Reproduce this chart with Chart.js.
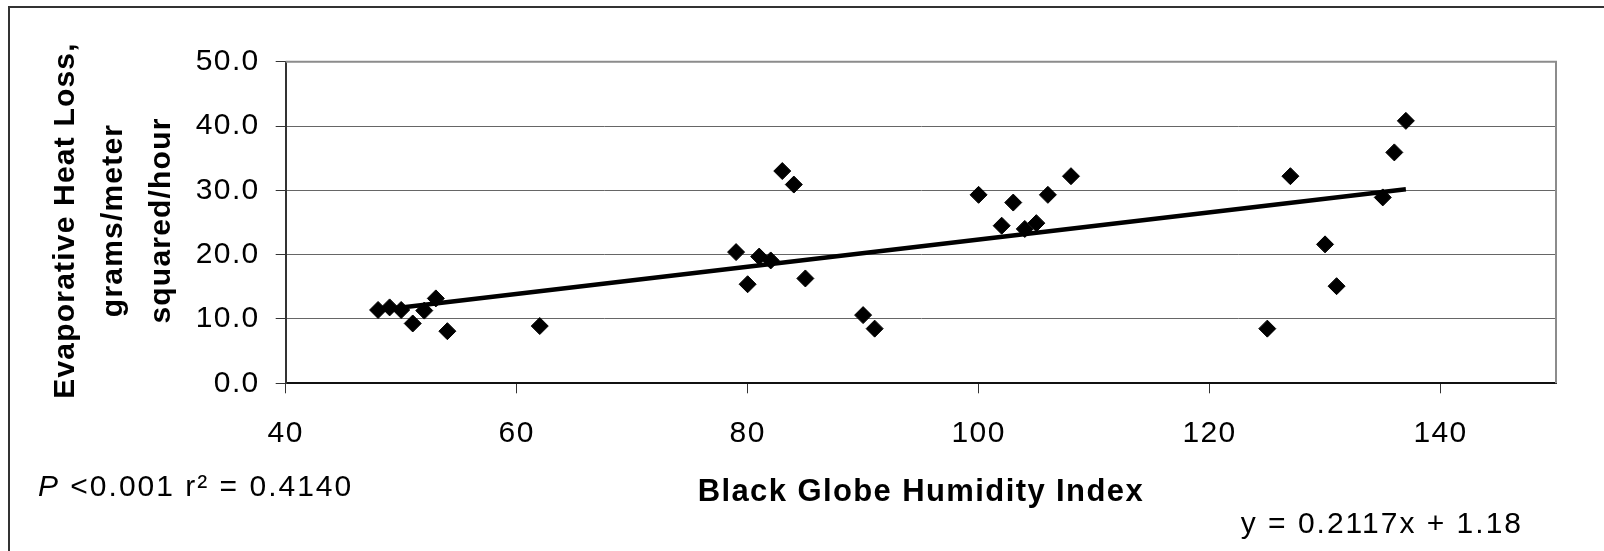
<!DOCTYPE html>
<html>
<head>
<meta charset="utf-8">
<title>Evaporative Heat Loss vs Black Globe Humidity Index</title>
<script src="https://cdn.jsdelivr.net/npm/chart.js@4/dist/chart.umd.min.js"></script>
<style>
  html, body { margin: 0; padding: 0; background: #fff; }
  canvas { display: block; }
</style>
</head>
<body>
<canvas id="bghiChart" width="1604" height="551"></canvas>
<script>
// Black Globe Humidity Index (x) and evaporative heat loss, g/m2/h (y)
const bghi = [48, 49, 50, 51, 52, 53, 54, 62, 79, 80, 81, 82, 83, 84, 85, 90, 91,
              100, 102, 103, 104, 105, 106, 108, 125, 127, 130, 131, 135, 136, 137];
const heatLoss = [11.4, 11.8, 11.4, 9.3, 11.3, 13.2, 8.1, 8.9, 20.4, 15.4, 19.7, 19.1, 33.0, 30.9, 16.3, 10.6, 8.5,
                  29.3, 24.5, 28.1, 24.0, 24.9, 29.3, 32.2, 8.5, 32.2, 21.6, 15.1, 28.9, 35.9, 40.8];

// fitted line from the source
const slope = 0.2117;
const intercept = 1.18;
const pValue = "<0.001";
const rSquared = "0.4140";

const xTicks = [40, 60, 80, 100, 120, 140];
const yTicks = [0, 10, 20, 30, 40, 50];
const xRange = [40, 150];
const yRange = [0, 50];

const yTitle = ["Evaporative Heat Loss,", "grams/meter", "squared/hour"];
const xTitle = "Black Globe Humidity Index";

const FONT = '"Liberation Sans", Arial, sans-serif';

const points = bghi.map((x, i) => ({ x: x, y: heatLoss[i] }));
const xMin = Math.min(...bghi);
const xMax = Math.max(...bghi);
const trend = [
    { x: xMin, y: slope * xMin + intercept },
    { x: xMax, y: slope * xMax + intercept }
];

const frameAndNotes = {
    id: "frameAndNotes",

    beforeDraw(chart) {
        // the source text is set a little wide
        chart.ctx.letterSpacing = "1.4px";
    },

    beforeDatasetsDraw(chart) {
        const { ctx, chartArea: a } = chart;
        ctx.save();
        ctx.strokeStyle = "#8c8c8c";
        ctx.lineWidth = 2;
        ctx.beginPath();
        ctx.moveTo(a.left, a.top);
        ctx.lineTo(a.right, a.top);
        ctx.lineTo(a.right, a.bottom);
        ctx.stroke();
        ctx.restore();
    },

    afterDraw(chart) {
        const { ctx, chartArea: a } = chart;
        ctx.save();

        // outer frame (only left and top edges are inside the picture)
        ctx.strokeStyle = "#333";
        ctx.lineWidth = 2;
        ctx.strokeRect(9, 7, chart.width, chart.height);

        ctx.fillStyle = "#000";
        ctx.textBaseline = "alphabetic";

        // y axis title, drawn here so it is not squeezed to the plot height
        ctx.save();
        ctx.translate(74, (a.top + a.bottom) / 2 - 2);
        ctx.rotate(-Math.PI / 2);
        ctx.textAlign = "center";
        ctx.font = "bold 30px " + FONT;
        ctx.letterSpacing = "1.2px";
        yTitle.forEach((line, i) => ctx.fillText(line, 0, i * 48));
        ctx.restore();

        // P and r squared
        ctx.letterSpacing = "2px";
        ctx.textAlign = "left";
        ctx.font = "italic 30px " + FONT;
        ctx.fillText("P", 38, 496);
        const pw = ctx.measureText("P").width;
        ctx.font = "30px " + FONT;
        ctx.fillText(" " + pValue + " r\u00B2 = " + rSquared, 38 + pw, 496);

        // regression equation
        ctx.letterSpacing = "2px";
        ctx.textAlign = "right";
        ctx.fillText("y = " + slope + "x + " + intercept, 1523, 533);

        ctx.restore();
    }
};

Chart.defaults.font.family = FONT;
Chart.defaults.color = "#000";

new Chart(document.getElementById("bghiChart"), {
    type: "scatter",
    data: {
        datasets: [
            {
                label: "Evaporative heat loss",
                data: points,
                pointStyle: "rectRot",
                pointRadius: 8.5,
                pointBorderWidth: 1,
                backgroundColor: "#000",
                borderColor: "#000"
            },
            {
                type: "line",
                label: "Linear fit",
                data: trend,
                borderColor: "#000",
                borderWidth: 4.5,
                pointRadius: 0,
                fill: false
            }
        ]
    },
    options: {
        responsive: false,
        animation: false,
        layout: { padding: { top: 61.7, right: 48, bottom: 0, left: 0 } },
        plugins: {
            legend: { display: false },
            tooltip: { enabled: false }
        },
        scales: {
            x: {
                type: "linear",
                min: xRange[0],
                max: xRange[1],
                afterBuildTicks: scale => { scale.ticks = xTicks.map(v => ({ value: v })); },
                afterFit: scale => { scale.height = 551 - 383.3; },
                ticks: {
                    font: { size: 30 },
                    padding: 22,
                    maxRotation: 0,
                    autoSkip: false
                },
                grid: {
                    drawOnChartArea: false,
                    tickLength: 10,
                    tickColor: "#333",
                    tickWidth: 1
                },
                border: { color: "#111", width: 2 },
                title: {
                    display: true,
                    text: xTitle,
                    font: { size: 31, weight: "bold" },
                    padding: { top: 0, bottom: 40 }
                }
            },
            y: {
                min: yRange[0],
                max: yRange[1],
                afterBuildTicks: scale => { scale.ticks = yTicks.map(v => ({ value: v })); },
                afterFit: scale => { scale.width = 285.7; },
                ticks: {
                    font: { size: 30 },
                    padding: 16,
                    callback: v => v.toFixed(1)
                },
                grid: {
                    color: "#666",
                    lineWidth: 1,
                    tickLength: 10,
                    tickColor: "#333"
                },
                border: { color: "#333", width: 2 }
            }
        }
    },
    plugins: [frameAndNotes]
});
</script>
</body>
</html>
